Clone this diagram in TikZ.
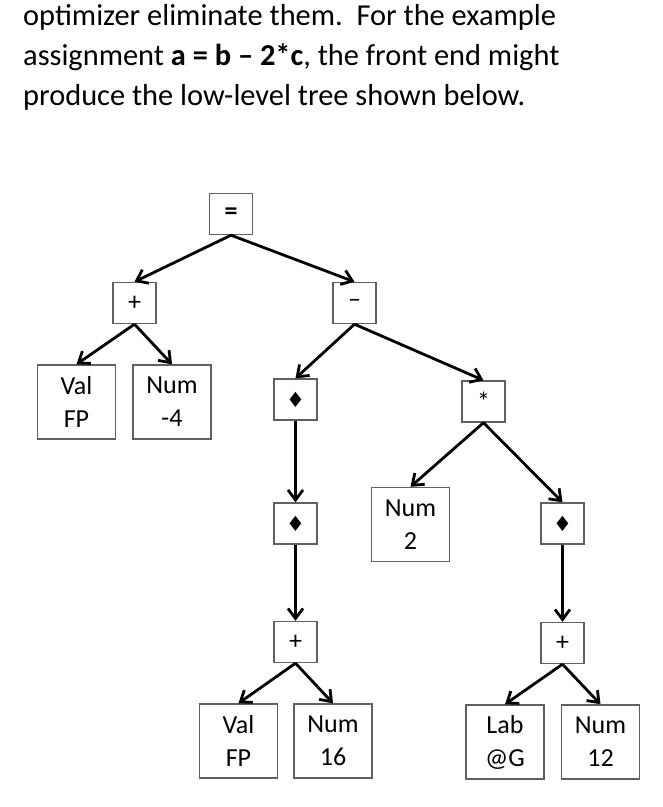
\documentclass[tikz,border=0pt]{standalone}
\usepackage{fontspec}
\setmainfont{Carlito}
\newfontfamily\symfont{DejaVu Sans}
\usetikzlibrary{arrows.meta}
\tikzset{
  op/.style={draw=gray!75!black, line width=1.4pt, fill=white, minimum width=43pt, minimum height=41pt, inner sep=0pt},
  leaf/.style={draw=gray!75!black, line width=1.4pt, fill=white, minimum width=78pt, minimum height=74pt, inner sep=0pt, align=center},
  edge/.style={line width=2.8pt, -{Straight Barb[length=10pt,width=15pt]}},
  para/.style={anchor=base west, inner sep=0pt, font=\fontsize{30.4}{40}\selectfont}
}
\newcommand{\dmd}{{\symfont\fontsize{21}{21}\selectfont ♦}}
\begin{document}
\begin{tikzpicture}[x=1pt, y=-1pt, font=\fontsize{26}{33}\selectfont]
  \useasboundingbox (0,0) rectangle (663,807);
  % text above the tree
  \node[para] (l1) at (23,25) {optimizer eliminate them.\ \ For the example};
  \node[para] (l2) at (23,65) {assignment \textbf{a = b – 2*c}, the front end might};
  \node[para] (l3) at (23,105) {produce the low-level tree shown below.};

  % operators
  \node[op] (asg) at (231,214) {\textbf{=}};
  \node[op] (add1) at (134.5,303) {+};
  \node[op] (sub) at (354.5,303) {–};
  \node[op] (ind1) at (295.5,399.5) {\dmd};
  \node[op] (mul) at (483.5,401.5) {*};
  \node[op] (ind2) at (295.5,523.5) {\dmd};
  \node[op] (ind3) at (562.5,523.5) {\dmd};
  \node[op] (add2) at (295.5,642) {+};
  \node[op] (add3) at (562.5,643) {+};

  % leaves
  \node[leaf] (val1) at (76.5,402) {Val\\FP};
  \node[leaf] (num1) at (172,402) {Num\\-4};
  \node[leaf] (num2) at (410.5,524.5) {Num\\2};
  \node[leaf] (val2) at (238.5,741) {Val\\FP};
  \node[leaf] (num3) at (333,741) {Num\\16};
  \node[leaf] (lab) at (505,742) {Lab\\@G};
  \node[leaf] (num4) at (600.5,742) {Num\\12};

  % edges
  \foreach \a/\b in {asg/add1, asg/sub, add1/val1, add1/num1, sub/ind1, sub/mul,
                     ind1/ind2, ind2/add2, add2/val2, add2/num3,
                     mul/num2, mul/ind3, ind3/add3, add3/lab, add3/num4}
    \draw[edge] (\a.south) -- (\b.north);
\end{tikzpicture}
\end{document}
